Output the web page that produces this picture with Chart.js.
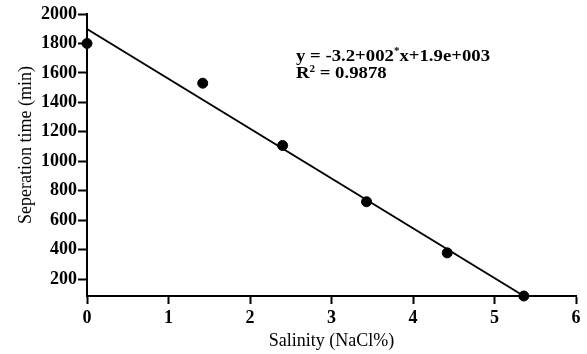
<!DOCTYPE html>
<html>
<head>
<meta charset="utf-8">
<script src="https://cdn.jsdelivr.net/npm/chart.js@4"></script>
<style>
html,body{margin:0;padding:0;background:#fff;}
#wrap{width:587px;height:354px;}
</style>
</head>
<body>
<div id="wrap"><canvas id="c" width="587" height="354"></canvas></div>
<script>
// Data
const salinity = [0, 1.42, 2.40, 3.43, 4.42, 5.36];
const sepTime = [1800, 1530, 1107, 725, 378, 85];
// Fitted line end points (as drawn)
const fitX = [0, 5.36];
const fitY = [1898, 85];
const yTickValues = [200, 400, 600, 800, 1000, 1200, 1400, 1600, 1800, 2000];
const xTickValues = [0, 1, 2, 3, 4, 5, 6];
const eqLine1 = ["y = -3.2+002", "*", "x+1.9e+003"];
const eqLine2 = ["R", "2", " = 0.9878"];
const yTitle = "Seperation time (min)";
const xTitle = "Salinity (NaCl%)";

const serif = "'Liberation Serif','Times New Roman',serif";

function drawParts(ctx, parts, x, y, big, small, rise) {
  let cx = 0;
  parts.forEach((p, i) => {
    const sup = i === 1;
    ctx.font = sup ? small : big;
    ctx.fillText(p, x + cx, sup ? y - rise : y);
    cx += ctx.measureText(p).width;
  });
  return cx;
}

const textPlugin = {
  id: 'eqText',
  afterDraw(chart) {
    const ctx = chart.ctx;
    ctx.save();
    ctx.fillStyle = '#000';
    ctx.textBaseline = 'alphabetic';
    ctx.textAlign = 'left';
    const big = 'bold 17px ' + serif;
    const small = 'bold 10px ' + serif;
    let w = 0;
    eqLine1.forEach((p, i) => { ctx.font = i === 1 ? small : big; w += ctx.measureText(p).width; });
    const sx = 194 / w;
    ctx.save();
    ctx.translate(296, 0);
    ctx.scale(sx, 1);
    drawParts(ctx, eqLine1, 0, 61, big, small, 7);
    drawParts(ctx, eqLine2, 0, 78, big, small, 6);
    ctx.restore();
    // y axis title
    ctx.save();
    ctx.translate(26, 145);
    ctx.rotate(-Math.PI / 2);
    ctx.textAlign = 'center';
    ctx.textBaseline = 'middle';
    ctx.font = '18px ' + serif;
    ctx.fillText(yTitle, 0, 0);
    ctx.restore();
    ctx.restore();
  }
};

new Chart(document.getElementById('c'), {
  type: 'scatter',
  data: {
    datasets: [
      {
        type: 'line',
        data: fitX.map((v, i) => ({x: v, y: fitY[i]})),
        borderColor: '#000',
        borderWidth: 2,
        pointRadius: 0,
        fill: false,
        clip: false,
        order: 2
      },
      {
        data: salinity.map((v, i) => ({x: v, y: sepTime[i]})),
        backgroundColor: '#000',
        borderColor: '#000',
        pointStyle: 'circle',
        pointRadius: 5,
        clip: false,
        order: 1
      }
    ]
  },
  options: {
    responsive: false,
    animation: false,
    devicePixelRatio: 1,
    layout: { padding: { top: 14, right: 11, left: 0, bottom: 0 } },
    plugins: { legend: { display: false }, tooltip: { enabled: false } },
    scales: {
      x: {
        type: 'linear',
        min: 0, max: 6,
        afterFit(s) { s.height = 58; },
        afterBuildTicks(s) { s.ticks = xTickValues.map(v => ({value: v})); },
        border: { display: true, color: '#000', width: 2 },
        grid: { drawOnChartArea: false, drawTicks: true, tickLength: 8, tickWidth: 2, tickColor: '#000' },
        ticks: { color: '#000', font: { family: serif, size: 18, weight: 'bold' }, padding: 4, callback: v => String(v) },
        title: { display: true, text: xTitle, color: '#000', font: { family: serif, size: 18 }, padding: { top: 0, bottom: 2 } }
      },
      y: {
        min: 85, max: 2000,
        afterFit(s) { s.width = 87; },
        afterBuildTicks(s) { s.ticks = yTickValues.map(v => ({value: v})); },
        border: { display: true, color: '#000', width: 2 },
        grid: { drawOnChartArea: false, drawTicks: true, tickLength: 9, tickWidth: 2, tickColor: '#000' },
        ticks: { color: '#000', font: { family: serif, size: 18, weight: 'bold' }, padding: 1, callback: v => String(v) },
        title: { display: false }
      }
    }
  },
  plugins: [textPlugin]
});
</script>
</body>
</html>
